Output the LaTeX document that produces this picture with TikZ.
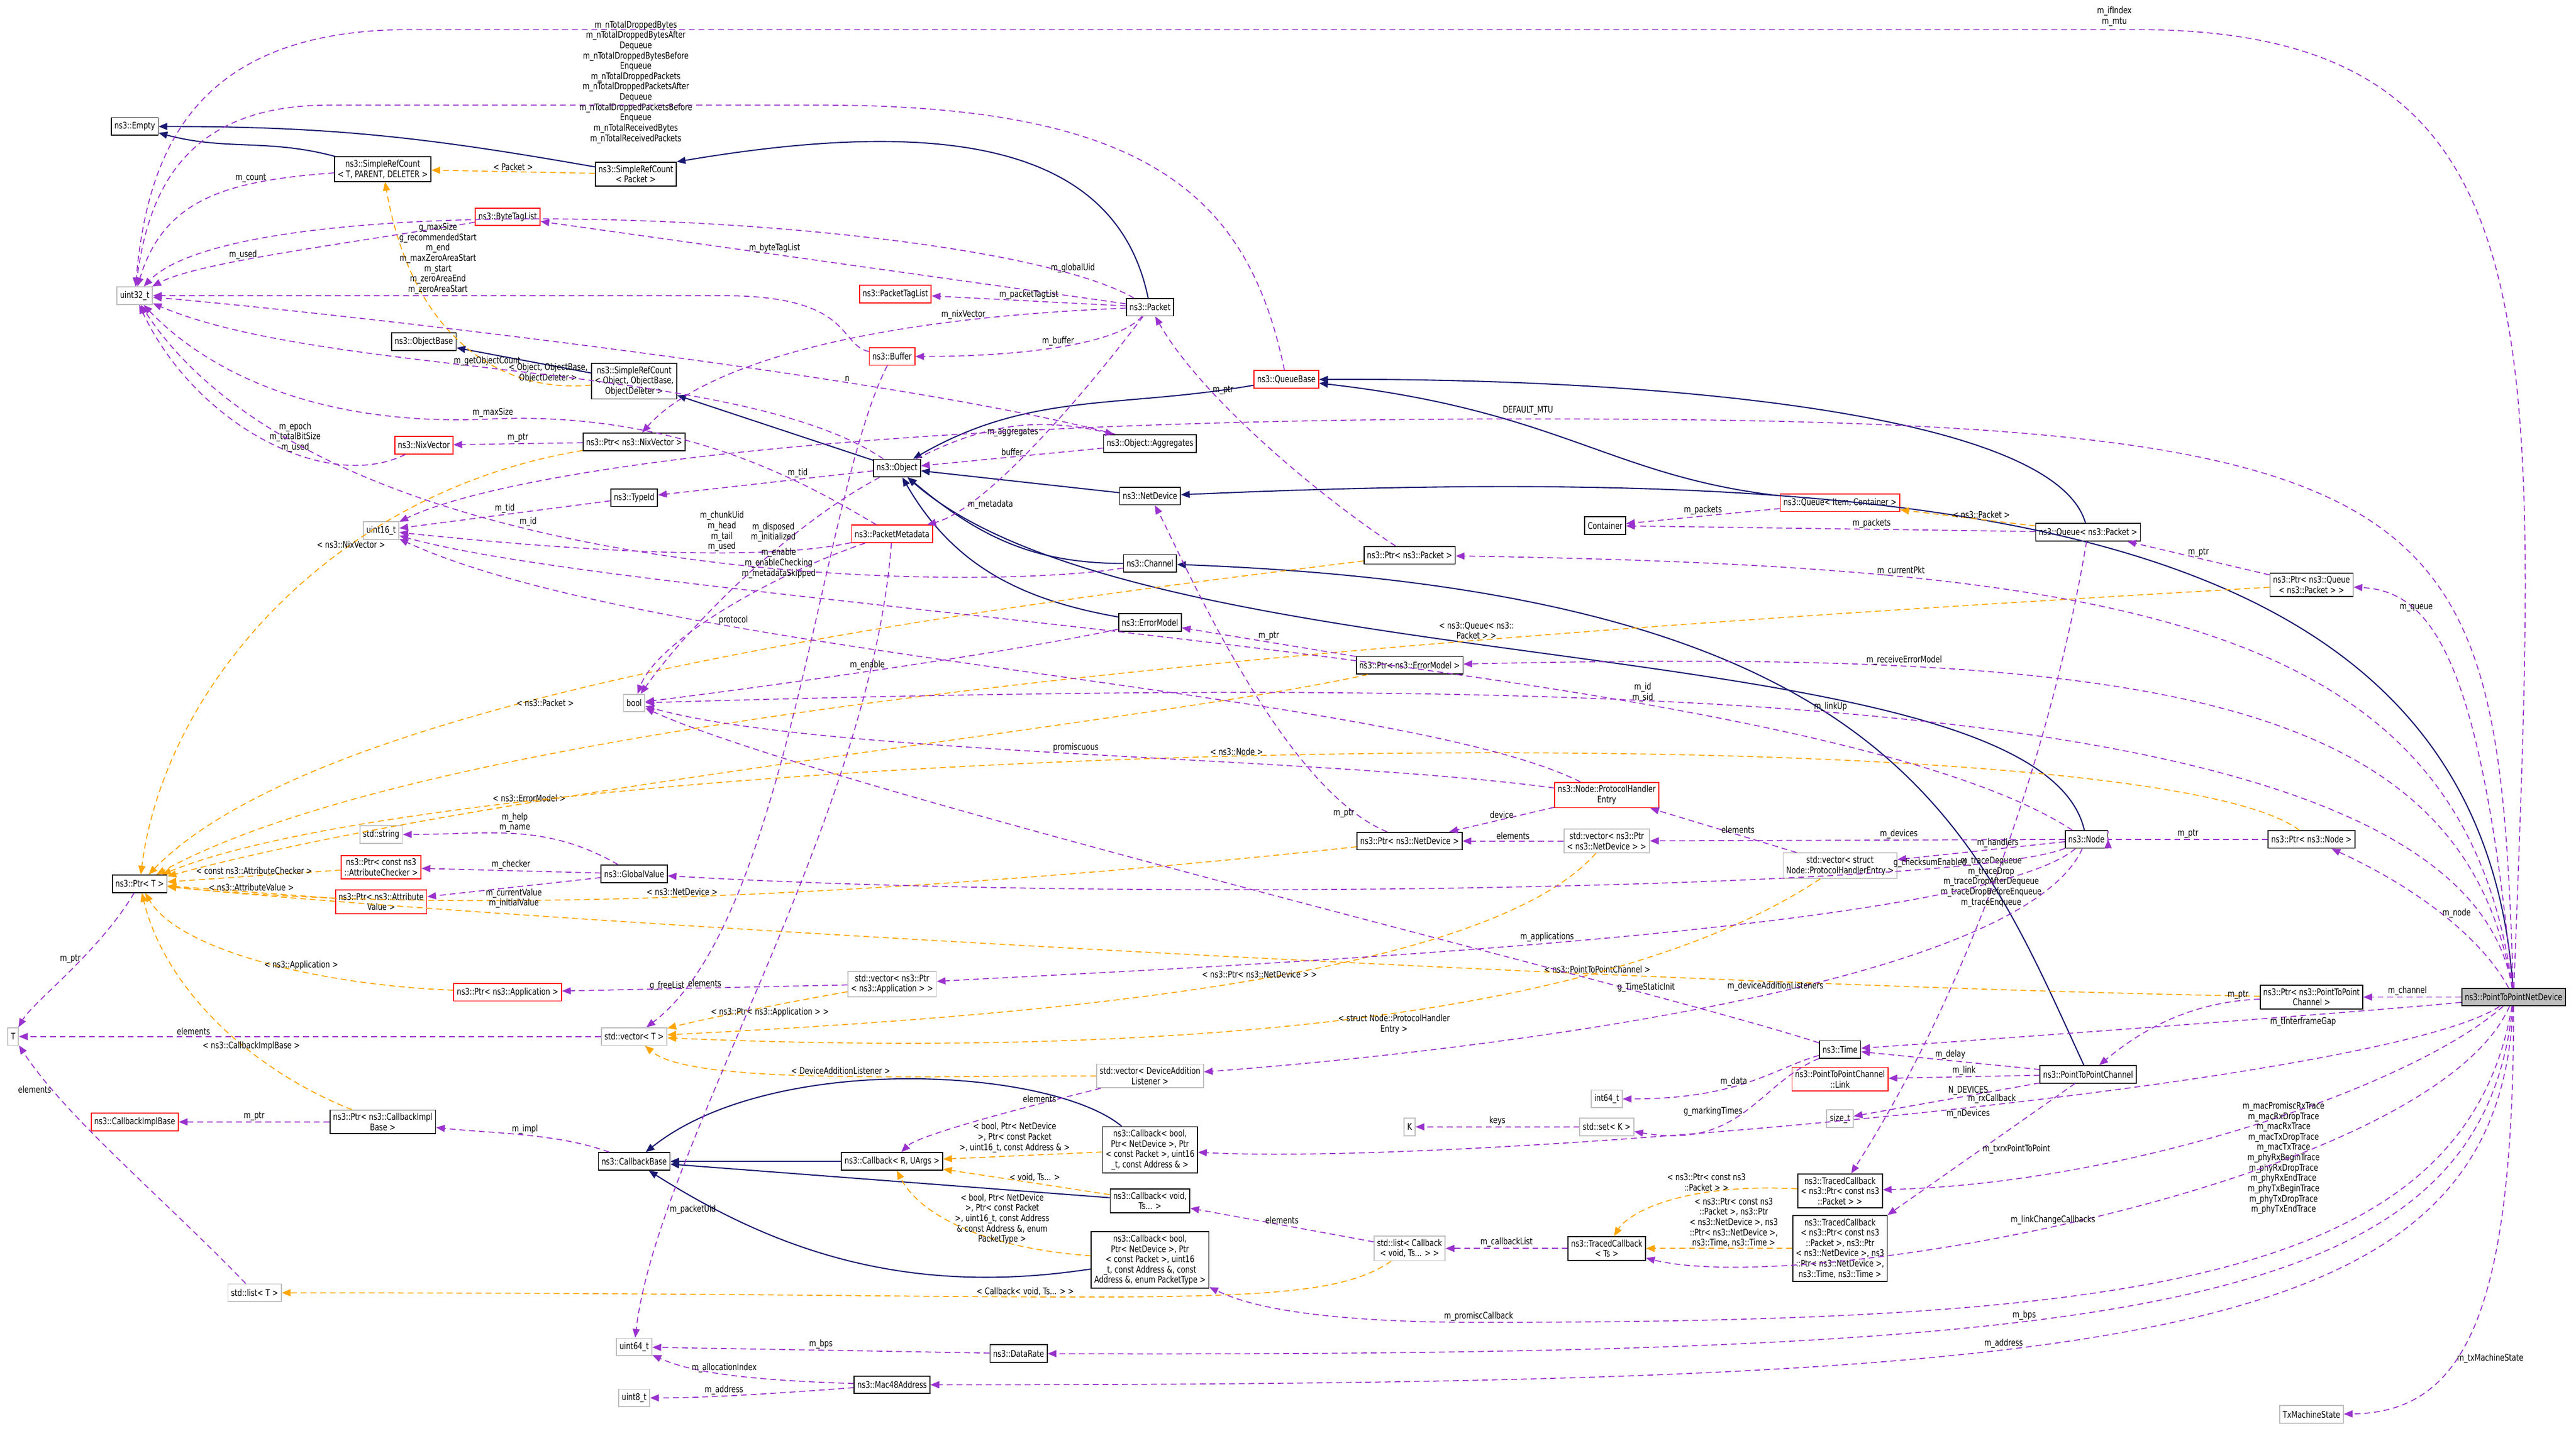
\documentclass[tikz,border=0pt]{standalone}
\usepackage{fontspec}
\setmainfont{DejaVu Sans}[FakeStretch=0.78]
\usetikzlibrary{arrows.meta}
\definecolor{navy}{HTML}{191970}
\definecolor{purp}{HTML}{9A32CD}
\definecolor{orng}{HTML}{FFA500}
\definecolor{gbord}{HTML}{BFBFBF}
\begin{document}
\begin{tikzpicture}[x=0.02966cm,y=-0.02966cm,
 every node/.style={font=\fontsize{4.7}{5.3}\selectfont,align=center},
 box/.style={draw=black,line width=0.5pt,inner sep=1.6pt,minimum height=9pt,fill=white},
 rbox/.style={box,draw=red},
 gbox/.style={box,draw=gbord},
 lbl/.style={inner sep=0.5pt},
 tip/.style={-{Triangle[length=4.5pt,width=3.6pt]}},
 inh/.style={tip,draw=navy,line width=0.6pt},
 use/.style={tip,draw=purp,dashed,line width=0.5pt,dash pattern=on 3pt off 2pt},
 tpl/.style={tip,draw=orng,dashed,line width=0.5pt,dash pattern=on 3pt off 2pt}]
\useasboundingbox (0,0) rectangle (1568,871);
% nodes
\node[box] (empty) at (82,77) {ns3::Empty};
\node[box] (srcT) at (233,103) {ns3::SimpleRefCount\\< T, PARENT, DELETER >};
\node[box] (srcP) at (387,106) {ns3::SimpleRefCount\\< Packet >};
\node[rbox] (btl) at (309,132) {ns3::ByteTagList};
\node[gbox] (u32) at (82,180) {uint32\_t};
\node[rbox] (ptl) at (545,179) {ns3::PacketTagList};
\node[box] (packet) at (700,187) {ns3::Packet};
\node[rbox] (buffer) at (543,217) {ns3::Buffer};
\node[box] (objbase) at (258,208) {ns3::ObjectBase};
\node[box] (srcO) at (386,232) {ns3::SimpleRefCount\\< Object, ObjectBase,\\ObjectDeleter >};
\node[rbox] (qbase) at (783,231) {ns3::QueueBase};
\node[rbox] (nix) at (258,271) {ns3::NixVector};
\node[box] (pnix) at (386,269) {ns3::Ptr< ns3::NixVector >};
\node[box] (aggr) at (700,270) {ns3::Object::Aggregates};
\node[box] (object) at (546,285) {ns3::Object};
\node[box] (typeid) at (386,303) {ns3::TypeId};
\node[box] (netdev) at (700,302) {ns3::NetDevice};
\node[rbox] (qitem) at (1120,306) {ns3::Queue< Item, Container >};
\node[box] (container) at (977,320) {Container};
\node[box] (qpkt) at (1271,324) {ns3::Queue< ns3::Packet >};
\node[gbox] (u16) at (232,323) {uint16\_t};
\node[rbox] (pmeta) at (543,325) {ns3::PacketMetadata};
\node[box] (ppkt) at (858,338) {ns3::Ptr< ns3::Packet >};
\node[box] (channel) at (700,343) {ns3::Channel};
\node[box] (pq) at (1407,356) {ns3::Ptr< ns3::Queue\\< ns3::Packet > >};
\node[box] (errm) at (700,379) {ns3::ErrorModel};
\node[box] (perr) at (858,405) {ns3::Ptr< ns3::ErrorModel >};
\node[gbox] (bool) at (386,428) {bool};
\node[rbox] (phe) at (978,484) {ns3::Node::ProtocolHandler\\Entry};
\node[gbox] (str) at (232,508) {std::string};
\node[rbox] (pchk) at (232,528) {ns3::Ptr< const ns3\\::AttributeChecker >};
\node[box] (gv) at (386,532) {ns3::GlobalValue};
\node[box] (ptrT) at (85,538) {ns3::Ptr< T >};
\node[rbox] (pval) at (232,549) {ns3::Ptr< ns3::Attribute\\Value >};
\node[box] (pnd) at (858,512) {ns3::Ptr< ns3::NetDevice >};
\node[gbox] (vnd) at (978,512) {std::vector< ns3::Ptr\\< ns3::NetDevice > >};
\node[gbox] (vphe) at (1120,527) {std::vector< struct\\Node::ProtocolHandlerEntry >};
\node[box] (node) at (1270,511) {ns3::Node};
\node[box] (pnode) at (1407,511) {ns3::Ptr< ns3::Node >};
\node[rbox] (papp) at (309,604) {ns3::Ptr< ns3::Application >};
\node[gbox] (vapp) at (543,599) {std::vector< ns3::Ptr\\< ns3::Application > >};
\node[gbox] (T) at (8,631) {T};
\node[gbox] (vT) at (386,631) {std::vector< T >};
\node[box] (pch) at (1407,607) {ns3::Ptr< ns3::PointToPoint\\Channel >};
\node[box,fill=gbord] (dev) at (1530,607) {ns3::PointToPointNetDevice};
\node[box] (time) at (1120,639) {ns3::Time};
\node[box] (p2pch) at (1271,654) {ns3::PointToPointChannel};
\node[rbox] (link) at (1120,657) {ns3::PointToPointChannel\\::Link};
\node[gbox] (vdal) at (700,655) {std::vector< DeviceAddition\\Listener >};
\node[gbox] (i64) at (978,669) {int64\_t};
\node[rbox] (cib) at (82,683) {ns3::CallbackImplBase};
\node[box] (pcib) at (233,683) {ns3::Ptr< ns3::CallbackImpl\\Base >};
\node[gbox] (K) at (858,686) {K};
\node[gbox] (setK) at (978,686) {std::set< K >};
\node[gbox] (sizet) at (1120,681) {size\_t};
\node[box] (cbA) at (700,700) {ns3::Callback< bool,\\Ptr< NetDevice >, Ptr\\< const Packet >, uint16\\\_t, const Address \& >};
\node[box] (cbase) at (386,707) {ns3::CallbackBase};
\node[box] (cbR) at (543,707) {ns3::Callback< R, UArgs >};
\node[box] (tcP) at (1120,725) {ns3::TracedCallback\\< ns3::Ptr< const ns3\\::Packet > >};
\node[box] (cbV) at (700,731) {ns3::Callback< void,\\Ts... >};
\node[box] (tcTs) at (978,760) {ns3::TracedCallback\\< Ts >};
\node[gbox] (listCb) at (858,760) {std::list< Callback\\< void, Ts... > >};
\node[box] (tc5) at (1120,760) {ns3::TracedCallback\\< ns3::Ptr< const ns3\\::Packet >, ns3::Ptr\\< ns3::NetDevice >, ns3\\::Ptr< ns3::NetDevice >,\\ns3::Time, ns3::Time >};
\node[box] (cbB) at (700,767) {ns3::Callback< bool,\\Ptr< NetDevice >, Ptr\\< const Packet >, uint16\\\_t, const Address \&, const\\Address \&, enum PacketType >};
\node[gbox] (listT) at (155,787) {std::list< T >};
\node[gbox] (u64) at (386,820) {uint64\_t};
\node[box] (drate) at (620,824) {ns3::DataRate};
\node[box] (mac) at (543,843) {ns3::Mac48Address};
\node[gbox] (u8) at (386,851) {uint8\_t};
\node[gbox] (txm) at (1407,861) {TxMachineState};

% inheritance
\draw[inh] (srcT) to[out=165,in=-15] (empty);
\draw[inh] (srcP) to[out=170,in=0] (empty.east);
\draw[inh] (packet) .. controls (680,90) and (580,70) .. (srcP.north east);
\draw[inh] (srcO) -- (objbase);
\draw[inh] (object) -- (srcO);
\draw[inh] (qbase) to[out=190,in=30] (object);
\draw[inh] (netdev) -- (object);
\draw[inh] (channel) to[out=180,in=-40] (object);
\draw[inh] (errm) to[out=170,in=-60] (object);
\draw[inh] (node) .. controls (1240,380) and (700,420) .. (object);
\draw[inh] (p2pch) .. controls (1200,500) and (1150,360) .. (channel);
\draw[inh] (dev) .. controls (1510,320) and (1200,280) .. (netdev);
\draw[inh] (qitem) .. controls (980,290) and (950,250) .. (qbase);
\draw[inh] (qpkt) .. controls (1250,250) and (1000,230) .. (qbase.east);
\draw[inh] (cbA) .. controls (640,650) and (470,640) .. (cbase);
\draw[inh] (cbR) -- (cbase);
\draw[inh] (cbV) -- (cbase);
\draw[inh] (cbB) .. controls (550,790) and (470,760) .. (cbase);

% template instances
\draw[tpl] (srcP) -- node[lbl,above]{< Packet >} (srcT);
\draw[tpl] (srcO) .. controls (300,240) and (250,200) .. node[lbl,pos=0.15,above]{< Object, ObjectBase,\\ObjectDeleter >} (srcT);
\draw[tpl] (pnix) .. controls (200,300) and (100,420) .. node[lbl,pos=0.35]{< ns3::NixVector >} (ptrT);
\draw[tpl] (ppkt) .. controls (600,370) and (200,420) .. node[lbl,pos=0.6,below]{< ns3::Packet >} (ptrT);
\draw[tpl] (pq) .. controls (1000,380) and (300,420) .. node[lbl,pos=0.35,above]{< ns3::Queue< ns3::\\Packet > >} (ptrT);
\draw[tpl] (perr) .. controls (700,440) and (300,480) .. node[lbl,pos=0.7,above]{< ns3::ErrorModel >} (ptrT);
\draw[tpl] (pnode) .. controls (1300,430) and (300,450) .. node[lbl,pos=0.52,above]{< ns3::Node >} (ptrT);
\draw[tpl] (pchk) -- node[lbl,above]{< const ns3::AttributeChecker >} (ptrT);
\draw[tpl] (pval) -- node[lbl,above]{< ns3::AttributeValue >} (ptrT);
\draw[tpl] (pnd) .. controls (600,540) and (300,560) .. node[lbl,pos=0.55,above]{< ns3::NetDevice >} (ptrT);
\draw[tpl] (papp) .. controls (200,600) and (110,580) .. node[lbl,pos=0.4,above]{< ns3::Application >} (ptrT);
\draw[tpl] (pch) .. controls (1000,600) and (300,560) .. node[lbl,pos=0.3,above]{< ns3::PointToPointChannel >} (ptrT);
\draw[tpl] (pcib) .. controls (150,650) and (100,600) .. node[lbl,pos=0.35,above]{< ns3::CallbackImplBase >} (ptrT);
\draw[tpl] (qpkt) -- node[lbl,pos=0.4,above]{< ns3::Packet >} (qitem);
\draw[tpl] (vnd) .. controls (900,600) and (600,620) .. node[lbl,pos=0.45,above]{< ns3::Ptr< ns3::NetDevice > >} (vT);
\draw[tpl] (vapp) .. controls (480,610) and (430,620) .. node[lbl,pos=0.4,below]{< ns3::Ptr< ns3::Application > >} (vT);
\draw[tpl] (vphe) .. controls (950,640) and (600,640) .. node[lbl,pos=0.4,below]{< struct Node::ProtocolHandler\\Entry >} (vT);
\draw[tpl] (vdal) .. controls (550,655) and (420,660) .. node[lbl,pos=0.45,above]{< DeviceAdditionListener >} (vT);
\draw[tpl] (cbA) -- node[lbl,pos=0.55,above=1pt]{< bool, Ptr< NetDevice\\>, Ptr< const Packet\\>, uint16\_t, const Address \& >} (cbR);
\draw[tpl] (cbV) -- node[lbl,pos=0.45,above]{< void, Ts... >} (cbR);
\draw[tpl] (cbB) .. controls (600,760) and (560,740) .. (cbR);
\node[lbl] (lcbB) at (610,742) {< bool, Ptr< NetDevice\\>, Ptr< const Packet\\>, uint16\_t, const Address\\\& const Address \&, enum\\PacketType >};
\draw[tpl] (listCb) .. controls (800,800) and (700,787) .. node[lbl,pos=0.6,above]{< Callback< void, Ts... > >} (listT);
\draw[tpl] (tcP) .. controls (1020,720) and (990,740) .. node[lbl,pos=0.3,above]{< ns3::Ptr< const ns3\\::Packet > >} (tcTs);
\draw[tpl] (tc5) -- node[lbl,pos=0.4,above]{< ns3::Ptr< const ns3\\::Packet >, ns3::Ptr\\< ns3::NetDevice >, ns3\\::Ptr< ns3::NetDevice >,\\ns3::Time, ns3::Time >} (tcTs);

% usage
\draw[use] (srcT) .. controls (140,110) and (100,120) .. node[lbl,pos=0.3,above]{m\_count} (u32);
\draw[use] (btl) .. controls (200,150) and (120,160) .. node[lbl,pos=0.6,above]{m\_used} (u32);
\draw[use] (packet) .. controls (600,130) and (150,110) .. node[lbl,pos=0.1,above]{m\_globalUid} (u32);
\draw[use] (packet) -- node[lbl,above,pos=0.6]{m\_byteTagList} (btl);
\draw[use] (packet) -- node[lbl,above]{m\_packetTagList} (ptl);
\draw[use] (packet) .. controls (680,210) and (620,217) .. node[lbl,above]{m\_buffer} (buffer);
\draw[use] (packet) .. controls (500,195) and (420,230) .. node[lbl,pos=0.2,above]{m\_nixVector} (pnix);
\draw[use] (packet) .. controls (660,240) and (600,310) .. node[lbl,pos=0.8,right]{m\_metadata} (pmeta);
\draw[use] (buffer) .. controls (510,210) and (520,180) .. (440,180) -- node[lbl,above]{g\_maxSize\\g\_recommendedStart\\m\_end\\m\_maxZeroAreaStart\\m\_start\\m\_zeroAreaEnd\\m\_zeroAreaStart} (u32);
\draw[use] (buffer) .. controls (500,300) and (480,560) .. node[lbl,pos=0.9,left]{g\_freeList} (vT);
\draw[use] (aggr) .. controls (550,230) and (200,190) .. node[lbl,pos=0.3,above]{n} (u32);
\draw[use] (object) .. controls (450,220) and (200,230) .. node[lbl,pos=0.55,above]{m\_getObjectCount} (u32);
\draw[use] (pmeta) .. controls (500,300) and (420,250) .. (300,255) .. controls (200,260) and (130,230) .. node[lbl,pos=0.0,above]{m\_maxSize} (u32);
\draw[use] (nix) .. controls (200,300) and (120,260) .. node[lbl,pos=0.4,above]{m\_epoch\\m\_totalBitSize\\m\_used} (u32);
\draw[use] (pnix) -- node[lbl,above]{m\_ptr} (nix);
\draw[use] (qbase) .. controls (760,120) and (700,64) .. (500,64) -- (200,64) .. controls (110,64) and (90,120) .. (u32);
\node[lbl] (lqb) at (387,50) {m\_nTotalDroppedBytes\\m\_nTotalDroppedBytesAfter\\Dequeue\\m\_nTotalDroppedBytesBefore\\Enqueue\\m\_nTotalDroppedPackets\\m\_nTotalDroppedPacketsAfter\\Dequeue\\m\_nTotalDroppedPacketsBefore\\Enqueue\\m\_nTotalReceivedBytes\\m\_nTotalReceivedPackets};
\draw[use] (object) -- node[lbl,pos=0.35,above]{m\_tid} (typeid);
\draw[use] (object) .. controls (480,320) and (420,380) .. node[lbl,pos=0.3,left]{m\_disposed\\m\_initialized} (bool);
\draw[use] (object) to[bend left=20] node[lbl,below]{m\_aggregates} (aggr);
\draw[use] (aggr) -- node[lbl,above]{buffer} (object);
\draw[use] (typeid) -- node[lbl,above]{m\_tid} (u16);
\draw[use] (pmeta) .. controls (450,345) and (300,330) .. node[lbl,pos=0.3,above]{m\_chunkUid\\m\_head\\m\_tail\\m\_used} (u16);
\draw[use] (pmeta) .. controls (470,350) and (400,390) .. node[lbl,pos=0.3,above]{m\_enable\\m\_enableChecking\\m\_metadataSkipped} (bool);
\draw[use] (pmeta) .. controls (530,500) and (400,700) .. node[lbl,pos=0.8,right]{m\_packetUid} (u64);
\draw[use] (channel) .. controls (600,360) and (200,360) .. node[lbl,pos=0.6,above]{m\_id} (u32);
\draw[use] (errm) .. controls (600,400) and (450,420) .. node[lbl,pos=0.5,above]{m\_enable} (bool);
\draw[use] (ppkt) .. controls (800,300) and (730,240) .. node[lbl,pos=0.7,right]{m\_ptr} (packet);
\draw[use] (perr) -- node[lbl,above]{m\_ptr} (errm);
\draw[use] (pq) -- node[lbl,above]{m\_ptr} (qpkt);
\draw[use] (qitem) -- node[lbl,above]{m\_packets} (container);
\draw[use] (qpkt) -- node[lbl,pos=0.4,above]{m\_packets} (container);
\draw[use] (qpkt) .. controls (1250,450) and (1200,600) .. (tcP);
\node[lbl] (lqt) at (1212,537) {m\_traceDequeue\\m\_traceDrop\\m\_traceDropAfterDequeue\\m\_traceDropBeforeEnqueue\\m\_traceEnqueue};
\draw[use] (pnd) .. controls (780,480) and (720,340) .. node[lbl,pos=0.1,left]{m\_ptr} (netdev);
\draw[use] (phe) -- node[lbl,pos=0.5,above]{device} (pnd);
\draw[use] (phe) .. controls (800,460) and (500,460) .. node[lbl,pos=0.5,above]{promiscuous} (bool);
\draw[use] (phe) .. controls (850,420) and (400,400) .. node[lbl,pos=0.7,above]{protocol} (u16);
\draw[use] (vnd) -- node[lbl,above]{elements} (pnd);
\draw[use] (vphe) -- node[lbl,pos=0.4,above]{elements} (phe);
\draw[use] (node) -- node[lbl,pos=0.4,above]{m\_devices} (vnd);
\draw[use] (node) -- node[lbl,pos=0.4,above]{m\_handlers} (vphe);
\draw[use] (node) .. controls (1100,400) and (400,370) .. node[lbl,pos=0.3,above]{m\_id\\m\_sid} (u16);
\draw[use] (node) .. controls (1200,570) and (700,590) .. node[lbl,pos=0.5,above]{m\_applications} (vapp);
\draw[use] (node) .. controls (1200,540) and (700,550) .. node[lbl,pos=0.2,above]{g\_checksumEnabled} (gv);
\draw[use] (node) .. controls (1230,600) and (900,640) .. node[lbl,pos=0.45,above]{m\_deviceAdditionListeners} (vdal);
\draw[use] (time) .. controls (1000,600) and (500,480) .. node[lbl,pos=0.2,above]{g\_TimeStaticInit} (bool);
\draw[use] (pnode) -- node[lbl,above]{m\_ptr} (pnode -| node.east) -- (node);
\draw[use] (gv) to[out=150,in=0] node[lbl,pos=0.5,above]{m\_help\\m\_name} (str);
\draw[use] (gv) -- node[lbl,above]{m\_checker} (pchk);
\draw[use] (gv) -- node[lbl,below]{m\_currentValue\\m\_initialValue} (pval);
\draw[use] (ptrT) .. controls (60,580) and (20,610) .. node[lbl,pos=0.4,left]{m\_ptr} (T);
\draw[use] (vapp) -- node[lbl,above]{elements} (papp);
\draw[use] (vT) -- node[lbl,above,pos=0.7]{elements} (T);
\draw[use] (listT) .. controls (100,730) and (40,680) .. node[lbl,pos=0.8,left]{elements} (T);
\draw[use] (pch) .. controls (1330,610) and (1300,630) .. node[lbl,pos=0.1,above]{m\_ptr} (p2pch);
\draw[use] (time) .. controls (1080,650) and (1060,669) .. node[lbl,pos=0.5,left]{m\_data} (i64);
\draw[use] (time) .. controls (1070,660) and (1060,700) .. node[lbl,pos=0.5,left]{g\_markingTimes} (setK);
\draw[use] (setK) -- node[lbl,above]{keys} (K);
\draw[use] (p2pch) -- node[lbl,above]{m\_delay} (time);
\draw[use] (p2pch) -- node[lbl,above]{m\_link} (link);
\draw[use] (p2pch) -- (sizet);
\node[lbl] (lndev) at (1198,664) {N\_DEVICES};
\node[lbl] (lndv2) at (1198,678) {m\_nDevices};
\draw[use] (p2pch) -- node[lbl,pos=0.5,right]{m\_txrxPointToPoint} (tc5);
\draw[use] (pcib) -- node[lbl,above]{m\_ptr} (cib);
\draw[use] (cbase) .. controls (340,690) and (300,690) .. node[lbl,pos=0.5,above]{m\_impl} (pcib);
\draw[use] (vdal) .. controls (640,670) and (560,690) .. node[lbl,pos=0.3,above]{elements} (cbR);
\draw[use] (listCb) -- node[lbl,above]{elements} (cbV);
\draw[use] (tcTs) -- node[lbl,above]{m\_callbackList} (listCb);
\draw[use] (drate) -- node[lbl,above]{m\_bps} (u64);
\draw[use] (mac) .. controls (450,840) and (420,835) .. node[lbl,pos=0.5,above]{m\_allocationIndex} (u64);
\draw[use] (mac) .. controls (450,850) and (420,851) .. node[lbl,pos=0.5,above]{m\_address} (u8);

% PointToPointNetDevice members
\draw[use] (dev) .. controls (1545,200) and (1560,18) .. (1300,18) -- (250,18) .. controls (120,18) and (90,90) .. (u32);
\node[lbl] (lifx) at (1287,10) {m\_ifIndex\\m\_mtu};
\draw[use] (dev) .. controls (1520,300) and (1500,255) .. (930,255) .. controls (500,255) and (300,290) .. (u16);
\node[lbl] (lmtu) at (930,250) {DEFAULT\_MTU};
\draw[use] (dev) .. controls (1510,400) and (1480,360) .. node[lbl,pos=0.7,above]{m\_queue} (pq);
\draw[use] (dev) .. controls (1500,380) and (1300,345) .. node[lbl,pos=0.75,above]{m\_currentPkt} (ppkt);
\draw[use] (dev) .. controls (1500,420) and (1300,395) .. node[lbl,pos=0.75,above]{m\_receiveErrorModel} (perr);
\draw[use] (dev) .. controls (1500,420) and (1000,410) .. node[lbl,pos=0.55,above]{m\_linkUp} (bool);
\draw[use] (dev) .. controls (1510,570) and (1470,540) .. node[lbl,pos=0.5,right]{m\_node} (pnode);
\draw[use] (dev) -- node[lbl,above,pos=0.55]{m\_channel} (pch);
\draw[use] (dev) .. controls (1450,615) and (1250,630) .. node[lbl,pos=0.35,below]{m\_tInterframeGap} (time);
\draw[use] (dev) .. controls (1450,660) and (900,710) .. node[lbl,pos=0.45,above]{m\_rxCallback} (cbA);
\draw[use] (dev) .. controls (1470,660) and (1300,720) .. (tcP);
\node[lbl] (lmac) at (1390,705) {m\_macPromiscRxTrace\\m\_macRxDropTrace\\m\_macRxTrace\\m\_macTxDropTrace\\m\_macTxTrace\\m\_phyRxBeginTrace\\m\_phyRxDropTrace\\m\_phyRxEndTrace\\m\_phyTxBeginTrace\\m\_phyTxDropTrace\\m\_phyTxEndTrace};
\draw[use] (dev) .. controls (1480,720) and (1100,790) .. node[lbl,pos=0.55,above]{m\_linkChangeCallbacks} (tcTs);
\draw[use] (dev) .. controls (1500,780) and (1300,805) .. (900,805) .. controls (780,805) and (750,790) .. node[lbl,pos=0,above]{m\_promiscCallback} (cbB);
\draw[use] (dev) .. controls (1510,800) and (1300,826) .. node[lbl,pos=0.6,above]{m\_bps} (drate);
\draw[use] (dev) .. controls (1520,820) and (1300,843) .. node[lbl,pos=0.6,above]{m\_address} (mac);
\draw[use] (dev) .. controls (1530,800) and (1500,860) .. node[lbl,pos=0.6,right]{m\_txMachineState} (txm);
\end{tikzpicture}
\end{document}
